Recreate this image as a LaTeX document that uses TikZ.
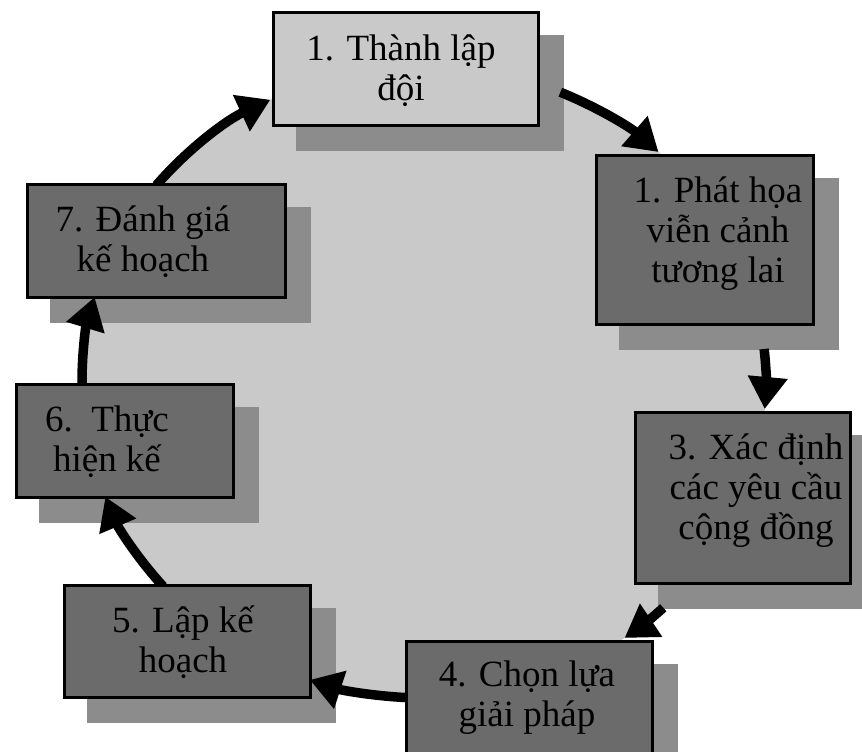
\documentclass[tikz,border=0pt]{standalone}
\usepackage{fontspec}
\setmainfont{Liberation Serif}
\usetikzlibrary{arrows.meta}
\pgfdeclarelayer{ring}
\pgfdeclarelayer{shade}
\pgfdeclarelayer{links}
\pgfsetlayers{ring,shade,links,main}
\definecolor{ringgray}{gray}{0.79}
\definecolor{stepdark}{gray}{0.42}
\definecolor{steplight}{gray}{0.79}
\definecolor{shadowgray}{gray}{0.55}

\begin{document}
\begin{tikzpicture}[x=1pt,y=1pt,
  stepbox/.style={draw=black, line width=3pt, fill=stepdark, anchor=north west, inner sep=0pt},
  steptext/.style={font=\fontsize{37}{40}\selectfont, align=center, inner sep=0pt, text=black},
  flow/.style={line width=9.5pt, draw=black, -{Triangle[length=32pt,width=38pt]}},
  ringarc/.style={x radius=342, y radius=316}]
\useasboundingbox (0,0) rectangle (862,-752);
\coordinate (ctr) at (424,-382);

% the seven steps
\node[stepbox, fill=steplight, minimum width=265pt, minimum height=112pt] (b1) at (271.5,-11.5) {};
\node[stepbox, minimum width=217pt, minimum height=169pt] (b2) at (594.5,-153.5) {};
\node[stepbox, minimum width=215pt, minimum height=171pt] (b3) at (633.5,-410.5) {};
\node[stepbox, minimum width=246pt, minimum height=118pt] (b4) at (404.5,-639.5) {};
\node[stepbox, minimum width=246pt, minimum height=112pt] (b5) at (62.5,-583.5) {};
\node[stepbox, minimum width=217pt, minimum height=113pt] (b6) at (14.5,-382.5) {};
\node[stepbox, minimum width=258pt, minimum height=113pt] (b7) at (25.5,-182.5) {};

% step labels
\node[steptext] (t1) at (401,-71) {1. Thành lập\\đội};
\node[steptext] (t2) at (718,-234) {1. Phát họa\\viễn cảnh\\tương lai};
\node[steptext] (t3) at (756,-491) {3. Xác định\\các yêu cầu\\cộng đồng};
\node[steptext] (t4) at (527,-698) {4. Chọn lựa\\giải pháp};
\node[steptext] (t5) at (183,-642) {5. Lập kế\\hoạch};
\node[steptext] (t6) at (107,-442) {6.\ \ Thực\\hiện kế};
\node[steptext] (t7) at (143,-242) {7. Đánh giá\\kế hoạch};

% background disc
\begin{pgfonlayer}{ring}
  \fill[white] (0,0) rectangle (862,-752);
  \fill[ringgray] (ctr) ellipse[ringarc];
\end{pgfonlayer}

% drop shadows
\begin{pgfonlayer}{shade}
  \foreach \b in {b1,b2,b3,b4,b5,b6,b7}
    \fill[shadowgray] ([shift={(24,-24)}]\b.south west) rectangle ([shift={(24,-24)}]\b.north east);
\end{pgfonlayer}

% arrows running round the disc
\begin{pgfonlayer}{links}
  \path (ctr) ++(141.5:342 and 316) coordinate (s71);
  \path (ctr) ++(66.5:342 and 316)  coordinate (s12);
  \path (ctr) ++(6:342 and 316)     coordinate (s23);
  \path (ctr) ++(-45.6:342 and 316) coordinate (s34);
  \path (ctr) ++(-92.5:342 and 316) coordinate (s45);
  \path (ctr) ++(-139.7:342 and 316) coordinate (s56);
  \path (ctr) ++(-179:342 and 316)  coordinate (s67);
  \draw[flow] (s71) arc[ringarc, start angle=141.5, end angle=116.7];
  \draw[flow] (s12) arc[ringarc, start angle=66.5, end angle=46.7];
  \draw[flow] (s23) arc[ringarc, start angle=6, end angle=-4.9];
  \draw[flow] (s34) arc[ringarc, start angle=-45.6, end angle=-54.1];
  \draw[flow] (s45) arc[ringarc, start angle=-92.5, end angle=-109.5];
  \draw[flow] (s56) arc[ringarc, start angle=-139.7, end angle=-158.7];
  \draw[flow] (s67) arc[ringarc, start angle=-179, end angle=-195.6];
\end{pgfonlayer}
\end{tikzpicture}
\end{document}
